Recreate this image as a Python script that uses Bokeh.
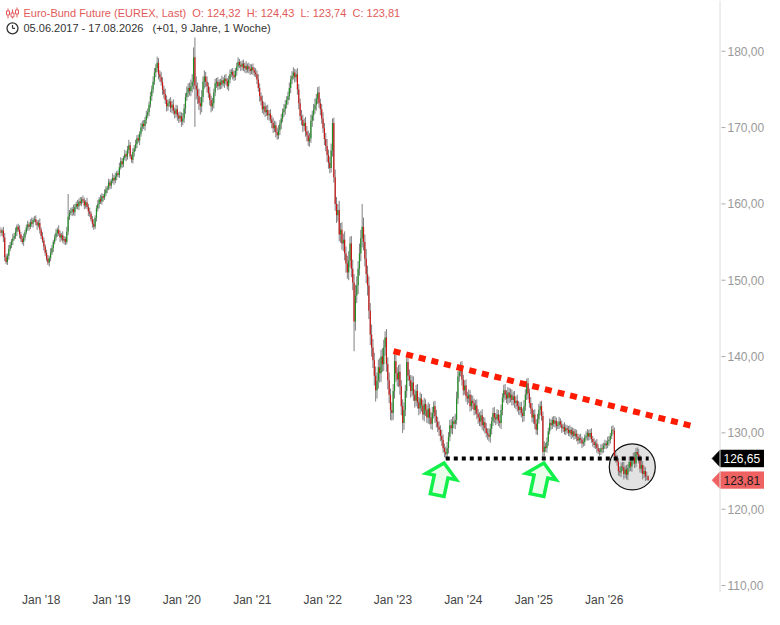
import math
import pandas as pd
from bokeh.plotting import figure
from bokeh.models import ColumnDataSource, FixedTicker, DatetimeTickFormatter, Label, Range1d, Span
from bokeh.core.properties import value
from bokeh.embed import file_html
from bokeh.resources import INLINE

# ---------------- data (weekly bars) ----------------
START = "2017-06-05"
first_open = 156.6
close = [
    156.2, 156.5, 155.6, 153.0, 152.4, 153.2, 154.1, 154.6, 155.1, 155.5,
    155.8, 156.4, 157.0, 156.6, 156.0, 155.4, 155.0, 155.6, 156.3, 156.9,
    157.3, 157.0, 157.6, 157.4, 157.9, 158.0, 157.6, 157.2, 157.5, 156.6,
    155.8, 155.2, 154.4, 153.6, 152.8, 152.3, 152.9, 153.6, 154.2, 155.0,
    155.6, 156.2, 156.6, 156.1, 155.6, 155.9, 155.2, 155.4, 155.0, 156.4,
    158.3, 158.8, 159.0, 159.3, 158.9, 159.6, 160.0, 159.7, 160.3, 160.1,
    160.6, 160.4, 159.8, 160.2, 159.6, 159.0, 158.7, 158.0, 157.4, 157.0,
    158.2, 159.4, 160.0, 160.6, 160.3, 161.0, 160.8, 161.4, 161.9, 162.1,
    162.8, 162.4, 163.0, 163.4, 163.1, 163.6, 164.0, 163.8, 164.8, 165.6,
    165.2, 166.0, 166.5, 166.2, 167.1, 167.7, 166.2, 165.8, 166.8, 167.3,
    167.8, 168.6, 168.3, 169.2, 170.0, 170.5, 170.2, 171.0, 171.6, 172.0,
    173.0, 174.1, 175.0, 176.0, 177.2, 177.8, 178.5, 177.0, 176.6, 176.0,
    175.0, 174.4, 173.6, 172.8, 173.2, 173.4, 172.6, 173.0, 172.2, 171.8,
    172.4, 171.6, 171.2, 171.5, 170.8, 171.2, 172.5, 174.0, 174.6, 175.2,
    174.8, 175.4, 176.0, 179.2, 175.5, 175.0, 174.1, 173.2, 172.8, 174.0,
    176.0, 176.7, 176.0, 175.4, 174.5, 173.6, 172.8, 173.2, 174.6, 175.8,
    176.0, 175.4, 175.9, 175.6, 176.2, 175.8, 176.4, 176.1, 175.4, 176.3,
    177.0, 177.3, 176.9, 176.6, 177.4, 178.0, 178.6, 178.2, 178.0, 178.4,
    177.8, 178.1, 177.6, 178.0, 177.7, 177.4, 177.9, 177.5, 177.2, 177.0,
    176.3, 175.2, 174.1, 173.5, 172.4, 172.8, 172.0, 172.3, 171.6, 171.8,
    171.1, 170.6, 169.9, 170.3, 169.4, 169.0, 169.6, 170.5, 171.2, 172.0,
    172.4, 173.0, 173.6, 174.1, 175.2, 176.3, 176.8, 177.2, 176.6, 177.0,
    175.0, 173.2, 171.5, 171.0, 170.2, 170.6, 169.5, 169.0, 168.2, 168.6,
    170.9, 171.6, 172.4, 173.0, 173.8, 174.6, 173.2, 172.4, 171.2, 169.9,
    168.5, 167.6, 166.4, 165.4, 164.7, 167.0, 170.6, 163.5, 160.0, 158.5,
    159.2, 156.0, 156.6, 154.8, 155.3, 153.5, 152.2, 151.0, 152.6, 154.8,
    151.5, 149.7, 144.6, 148.0, 149.3, 151.5, 153.5, 155.5, 157.0, 155.0,
    152.8, 150.8, 149.3, 146.0, 142.9, 141.2, 139.5, 137.5, 135.6, 136.8,
    138.6, 137.8, 140.0, 139.0, 141.2, 142.5, 139.0, 136.9, 135.0, 133.0,
    132.6, 135.5, 139.4, 137.8, 137.0, 138.0, 136.1, 133.5, 131.3, 133.0,
    135.5, 139.3, 137.5, 136.9, 135.5, 136.6, 135.0, 134.2, 135.5, 134.0,
    133.2, 134.5, 133.6, 132.4, 133.8, 133.0, 132.0, 133.2, 132.0, 131.2,
    132.6, 133.5, 132.2, 131.5, 130.8, 130.4, 129.6, 129.1, 128.0, 127.5,
    127.2, 128.0, 129.5, 131.0, 130.6, 131.5, 131.2, 131.7, 134.5, 137.4,
    138.0, 138.6, 137.0, 135.6, 136.2, 134.8, 134.5, 135.0, 133.5, 134.2,
    133.9, 133.0, 133.6, 132.5, 132.0, 131.5, 132.3, 131.0, 131.4, 130.6,
    130.0, 129.8, 129.5, 130.5, 131.5, 132.6, 132.0, 131.8, 132.4, 131.6,
    131.3, 133.0, 134.6, 135.6, 135.0, 134.5, 135.3, 134.6, 135.0, 134.3,
    134.8, 133.9, 134.2, 133.5, 133.0, 133.4, 132.6, 132.2, 133.5, 135.0,
    136.5, 135.2, 133.9, 133.2, 132.0, 132.4, 131.2, 130.4, 131.8, 133.0,
    133.5, 132.2, 127.5, 128.2, 128.0, 128.8, 130.2, 131.3, 131.0, 131.7,
    131.2, 131.6, 130.9, 131.0, 131.5, 131.1, 130.6, 130.8, 130.2, 130.6,
    130.4, 130.0, 130.4, 129.8, 130.2, 129.6, 129.9, 129.5, 129.0, 129.3,
    129.1, 128.6, 128.8, 129.4, 129.6, 130.0, 129.5, 130.0, 129.2, 128.8,
    128.4, 128.6, 128.0, 127.6, 127.5, 128.0, 127.9, 128.3, 128.6, 128.4,
    128.9, 129.1, 129.6, 130.4, 130.3, 127.0, 126.5, 126.2, 125.0, 124.8,
    125.6, 125.5, 124.6, 125.2, 124.5, 125.4, 126.2, 125.6, 126.4, 126.8,
    126.0, 127.5, 127.2, 126.6, 125.3, 125.8, 124.6, 125.0, 124.3, 124.32,
    123.81,
]
# wick above the body top / below the body bottom (price units)
wick_up = [
    0.4,0.3,0.5,0.6,0.4,0.3,0.5,0.4,0.3,0.6,0.4,0.5,0.3,0.4,0.6,0.3,0.4,0.5,0.3,0.4,
    0.5,0.3,0.4,0.6,0.3,0.4,0.5,0.3,0.4,0.6,0.3,0.5,0.4,0.3,0.4,0.5,0.3,0.6,0.4,0.3,
    0.4,0.5,0.3,0.6,0.4,0.3,0.5,0.4,0.3,0.6,3.0,0.4,0.5,0.3,0.6,0.4,0.3,0.5,0.4,0.6,
    0.3,0.5,0.4,0.3,0.6,0.4,0.5,0.3,0.4,0.6,0.3,0.4,0.5,0.3,0.6,0.4,0.3,0.5,0.4,0.3,
    0.5,0.4,0.3,0.6,0.4,0.5,0.3,0.4,0.6,0.5,0.4,0.3,0.6,0.4,0.5,0.7,0.4,0.3,0.5,0.4,
    0.6,0.4,0.5,0.3,0.6,0.4,0.5,0.4,0.6,0.5,0.4,0.6,0.5,0.7,0.6,0.5,0.8,0.6,0.5,0.7,
    0.6,0.5,0.7,0.6,0.5,0.4,0.6,0.5,0.7,0.4,0.6,0.5,0.4,0.6,0.5,0.7,0.6,0.5,0.8,0.6,
    0.7,0.9,1.0,1.3,2.6,1.2,0.9,1.0,0.8,0.9,0.7,0.8,0.6,0.7,0.5,0.8,0.6,0.7,0.5,0.6,
    0.5,0.6,0.4,0.5,0.6,0.4,0.5,0.6,0.4,0.5,0.6,0.4,0.5,0.6,0.4,0.5,0.6,0.4,0.5,0.4,
    0.5,0.4,0.6,0.4,0.5,0.6,0.4,0.5,0.4,0.6,0.5,0.7,0.6,0.5,0.7,0.6,0.5,0.6,0.7,0.5,
    0.6,0.5,0.7,0.6,0.5,0.6,0.7,0.5,0.6,0.5,0.7,0.6,0.5,0.6,0.7,0.5,0.6,0.7,0.5,0.6,
    0.8,0.7,0.6,0.8,0.7,0.6,0.8,0.7,0.6,0.7,0.8,0.6,0.7,0.8,0.6,0.7,0.8,0.6,0.7,0.8,
    0.7,0.8,0.9,0.7,0.8,0.9,0.6,0.7,1.0,0.9,0.8,1.2,0.9,1.0,0.8,1.1,0.9,1.0,1.2,0.9,
    1.0,1.2,1.1,1.4,1.2,1.0,1.3,1.1,3.0,1.2,1.0,1.3,1.1,1.2,1.0,1.3,1.1,1.0,1.2,1.1,
    1.0,1.2,0.9,1.1,1.0,0.8,1.1,0.9,1.0,0.8,1.0,0.9,0.9,1.0,0.8,0.9,1.0,0.8,0.9,1.0,
    0.8,0.6,0.9,0.8,0.7,0.9,0.8,0.7,0.8,0.9,0.7,0.8,0.6,0.7,0.8,0.6,0.7,0.8,0.6,0.7,
    0.8,0.6,0.7,0.8,0.6,0.7,0.6,0.8,0.7,0.6,0.7,0.8,0.6,0.7,0.8,0.6,0.7,0.8,0.9,0.7,
    0.6,0.7,0.8,0.6,0.7,0.8,0.6,0.7,0.6,0.8,0.7,0.6,0.7,0.8,0.6,0.7,0.6,0.8,0.7,0.6,
    0.7,0.6,0.8,0.7,0.6,0.7,0.8,0.6,0.7,0.6,0.8,0.7,0.6,0.7,0.8,0.6,0.7,0.6,0.8,0.7,
    0.6,0.7,0.6,0.8,0.7,0.6,0.7,0.6,0.8,0.7,0.6,0.7,0.6,0.8,0.7,0.6,0.7,0.6,0.7,0.8,
    0.6,0.7,0.6,0.7,0.5,0.6,0.5,0.6,0.5,0.4,0.5,0.6,0.4,0.5,0.6,0.4,0.5,0.4,0.6,0.5,
    0.4,0.5,0.6,0.4,0.5,0.4,0.6,0.5,0.4,0.5,0.6,0.4,0.5,0.4,0.6,0.5,0.4,0.5,0.6,0.4,
    0.5,0.4,0.6,0.5,0.4,0.5,0.6,0.4,0.5,0.4,0.6,0.5,0.4,0.5,0.6,0.4,0.5,0.6,0.5,0.6,
    0.5,0.6,0.7,0.5,0.6,0.5,0.7,0.6,0.5,0.6,0.7,0.5,0.6,0.7,0.5,0.6,0.5,0.7,0.5,0.6,
    0.11,
]
wick_dn = [
    0.5,0.4,0.6,0.5,0.3,0.4,0.5,0.3,0.4,0.5,0.3,0.4,0.6,0.3,0.5,0.4,0.3,0.5,0.4,0.3,
    0.4,0.5,0.3,0.4,0.5,0.3,0.4,0.6,0.3,0.5,0.4,0.3,0.5,0.4,0.3,0.3,0.5,0.4,0.3,0.5,
    0.3,0.4,0.5,0.3,0.6,0.4,0.3,0.5,0.4,0.3,0.5,0.4,0.3,0.6,0.4,0.5,0.3,0.4,0.5,0.3,
    0.4,0.3,0.5,0.4,0.3,0.6,0.4,0.3,0.5,0.4,0.3,0.5,0.4,0.6,0.3,0.4,0.5,0.3,0.4,0.5,
    0.3,0.5,0.4,0.3,0.6,0.4,0.5,0.3,0.4,0.3,0.5,0.4,0.3,0.6,0.4,0.5,0.3,0.4,0.5,0.6,
    0.4,0.5,0.3,0.6,0.4,0.5,0.4,0.6,0.5,0.4,0.5,0.4,0.6,0.5,0.4,0.6,0.5,0.7,0.6,0.5,
    0.7,0.6,0.5,0.7,0.6,0.5,0.6,0.7,0.5,0.6,0.5,0.7,0.6,0.5,0.7,0.5,0.6,0.7,0.5,0.6,
    0.6,0.7,0.8,1.0,5.4,1.3,1.0,0.9,1.1,0.8,0.7,0.9,0.7,0.8,0.6,0.7,0.8,0.6,0.7,0.5,
    0.6,0.5,0.4,0.6,0.5,0.4,0.6,0.5,0.4,0.6,0.5,0.4,0.6,0.5,0.4,0.6,0.5,0.4,0.6,0.5,
    0.4,0.6,0.5,0.4,0.6,0.5,0.4,0.6,0.5,0.4,0.6,0.5,0.7,0.6,0.5,0.7,0.6,0.5,0.6,0.7,
    0.5,0.7,0.6,0.5,0.7,0.6,0.5,0.6,0.7,0.5,0.6,0.7,0.5,0.6,0.5,0.7,0.6,0.5,0.7,0.6,
    0.7,0.8,0.6,0.7,0.8,0.6,0.7,0.8,0.6,0.7,0.6,0.8,0.7,0.6,0.8,0.7,0.6,0.8,0.7,0.6,
    0.8,0.7,0.9,0.8,0.7,0.6,0.8,0.7,0.9,1.0,0.8,0.9,1.1,0.8,1.0,0.9,1.2,0.8,1.0,0.9,
    1.1,1.0,3.9,1.2,1.0,1.1,0.9,1.0,1.2,1.1,1.0,1.2,1.3,1.1,1.4,1.2,1.0,1.3,1.5,1.1,
    1.0,1.2,1.1,1.0,0.9,1.1,1.0,1.2,1.1,1.3,1.0,0.9,1.0,1.1,0.9,1.0,1.1,1.2,1.3,0.9,
    0.8,0.9,0.7,0.8,0.9,0.7,0.8,0.9,0.7,0.8,0.9,0.7,0.8,0.7,0.9,0.8,0.7,0.8,0.9,0.7,
    0.8,0.7,0.9,0.8,0.7,0.8,0.7,0.8,0.6,0.7,0.55,0.6,0.7,0.6,0.7,0.8,0.6,0.7,0.6,0.7,
    0.7,0.6,0.8,0.7,0.6,0.7,0.8,0.6,0.7,0.6,0.8,0.7,0.6,0.7,0.8,0.6,0.7,0.6,0.8,0.7,
    0.6,0.7,0.6,0.8,0.7,0.6,0.7,0.8,0.6,0.7,0.6,0.8,0.7,0.6,0.7,0.6,0.8,0.7,0.6,0.7,
    0.7,0.6,0.8,0.7,0.6,0.7,0.6,0.8,0.7,0.6,0.7,0.8,0.6,0.7,0.6,0.8,0.7,0.6,0.7,0.6,
    0.7,0.6,0.85,0.6,0.5,0.6,0.5,0.4,0.6,0.5,0.4,0.5,0.6,0.4,0.5,0.4,0.6,0.5,0.4,0.5,
    0.5,0.4,0.5,0.6,0.4,0.5,0.4,0.6,0.5,0.4,0.5,0.6,0.4,0.5,0.4,0.6,0.5,0.4,0.5,0.6,
    0.4,0.5,0.6,0.4,0.5,0.4,0.6,0.5,0.4,0.5,0.4,0.6,0.5,0.4,0.5,0.6,0.4,0.5,0.6,0.5,
    0.6,0.5,0.7,0.5,0.6,0.7,0.5,0.6,0.7,0.5,0.6,0.5,0.7,0.6,0.5,0.6,0.7,0.5,0.6,0.5,
    0.07,
]

year_ticks = [2018, 2019, 2020, 2021, 2022, 2023, 2024, 2025, 2026]
price_ticks = [110, 120, 130, 140, 150, 160, 170, 180]

title_text = ("Euro-Bund Future (EUREX, Last)\u00a0\u00a0O: 124,32\u00a0\u00a0H: 124,43"
              "\u00a0\u00a0L: 123,74\u00a0\u00a0C: 123,81")
period_text = "05.06.2017 - 17.08.2026\u00a0\u00a0\u00a0(+01, 9 Jahre, 1 Woche)"

# annotations
support_level = 126.65
last_price = 123.81
trend_pts = [("2023-01-04", 140.7), ("2027-03-25", 130.95)]
support_span = ("2023-10-02", "2026-08-20")
circle_center = ("2026-05-27", 125.54)
arrow_tips = [("2023-09-23", 126.06), ("2025-02-22", 126.06)]

# ---------------- layout ----------------
W, H = 764, 609
FW, FH = 764, 595
PX_PER_DAY = 0.19268
X0 = pd.Timestamp("2017-06-04")
X1 = X0 + pd.Timedelta(days=FW / PX_PER_DAY)
PPU = 537 / 70.0                     # pixels per price unit
Y1 = 180 + 51 / PPU
Y0 = Y1 - FH / PPU
AXIS_X = 719.5                       # pixel column of the price scale line


def ms(ts):
    return pd.Timestamp(ts).value / 1e6


MS_PER_PX = (ms(X1) - ms(X0)) / FW
P_PER_PX = 1.0 / PPU


def fx(px):
    return ms(X0) + px * MS_PER_PX


def fy(py):
    return Y1 - py * P_PER_PX


n = len(close)
dates = pd.date_range(START, periods=n, freq="7D")
opens = [first_open] + close[:-1]
highs, lows, colors = [], [], []
for i in range(n):
    o, c = opens[i], close[i]
    highs.append(max(o, c) + wick_up[min(i, len(wick_up) - 1)])
    lows.append(min(o, c) - wick_dn[min(i, len(wick_dn) - 1)])
    colors.append("#1f8f26" if c >= o else "#cc1616")

src = ColumnDataSource(dict(date=dates, open=opens, close=close, high=highs, low=lows, color=colors))

p = figure(width=W, height=H, x_axis_type="datetime", y_axis_location=None,
           output_backend="svg", toolbar_location=None,
           x_range=Range1d(X0.to_pydatetime(), X1.to_pydatetime()),
           y_range=Range1d(Y0, Y1),
           min_border_left=0, min_border_top=0, min_border_right=0, min_border_bottom=H - FH)
p.outline_line_color = None
p.xgrid.visible = False
p.ygrid.visible = False
p.background_fill_color = "white"
p.border_fill_color = "white"

# x axis
xax = p.xaxis[0]
xax.ticker = FixedTicker(ticks=[ms(f"{y}-01-01") for y in year_ticks])
fmt = "Jan '%y"
xax.formatter = DatetimeTickFormatter(years=fmt, months=fmt, days=fmt, hours=fmt,
                                      minutes=fmt, seconds=fmt, milliseconds=fmt)
xax.axis_line_color = None
xax.major_tick_line_color = None
xax.minor_tick_line_color = None
xax.major_tick_out = 0
xax.major_tick_in = 0
xax.major_label_standoff = 0
xax.major_label_text_color = "#444444"
xax.major_label_text_font = "Liberation Sans"
xax.major_label_text_font_size = "12px"

# price scale drawn at the right edge of the plotting area
p.add_layout(Span(location=fx(AXIS_X), dimension="height", line_color="#dcdcdc", line_width=1))
p.segment(x0=[fx(AXIS_X + 1.5)] * len(price_ticks), y0=price_ticks,
          x1=[fx(AXIS_X + 5.5)] * len(price_ticks), y1=price_ticks, line_color="#aaaaaa", line_width=1)
p.text(x=[fx(AXIS_X + 7.5)] * len(price_ticks), y=price_ticks,
       text=[f"{t:.2f}".replace(".", ",") for t in price_ticks],
       text_font=value("Liberation Sans"), text_font_size=value("12px"),
       text_color="#999999", text_baseline="middle", text_align="left")

# circle highlight (under the bars)
p.scatter(x=[pd.Timestamp(circle_center[0])], y=[circle_center[1]], size=46, marker="circle",
          fill_color="#e2e2e2", line_color="#111111", line_width=1.2)

# candles
p.segment(x0="date", y0="low", x1="date", y1="high", source=src, line_color="#808080", line_width=1)
p.segment(x0="date", y0="open", x1="date", y1="close", source=src, line_color="color", line_width=1.2)

# trend line and support
p.line(x=[pd.Timestamp(d) for d, _ in trend_pts], y=[v for _, v in trend_pts],
       line_color="#ff1a00", line_width=6, line_dash="7 6")
p.line(x=[pd.Timestamp(support_span[0]), pd.Timestamp(support_span[1])],
       y=[support_level, support_level], line_color="black", line_width=4, line_dash="4 4")

# green arrows (shape in pixels, rotated)
shape = [(0, 0), (15.5, -14), (7, -14), (7, -33), (-7, -33), (-7, -14), (-15.5, -14)]
th = math.radians(12)
for d, pr in arrow_tips:
    xs, ys = [], []
    for (u, v) in shape:
        ux = u * math.cos(th) + v * math.sin(th)
        vy = -u * math.sin(th) + v * math.cos(th)
        xs.append(ms(d) + ux * MS_PER_PX)
        ys.append(pr + vy * P_PER_PX)
    p.patch(xs, ys, fill_color="#eafcea", line_color="#12f04a", line_width=3.5, line_join="miter")

# header icons
red = "#e25a5a"
for cx, wt, wb, bt, bb in [(7.5, 8, 18, 10.5, 14.5), (12, 9, 18, 12.5, 16.5), (16.5, 7, 17, 9.5, 13.5)]:
    p.segment(x0=[fx(cx)], y0=[fy(wb)], x1=[fx(cx)], y1=[fy(wt)], line_color=red, line_width=1)
    p.quad(left=[fx(cx - 1.5)], right=[fx(cx + 1.5)], top=[fy(bt)], bottom=[fy(bb)],
           fill_color="white", line_color=red, line_width=1)
p.scatter(x=[fx(12)], y=[fy(28)], size=11, marker="circle", fill_color="white",
          line_color="#333333", line_width=1.3)
p.segment(x0=[fx(12), fx(12)], y0=[fy(28), fy(28)], x1=[fx(12), fx(14.5)], y1=[fy(24.5), fy(28)],
          line_color="#333333", line_width=1.2)

p.add_layout(Label(x=23, x_units="screen", y=fy(12.5), y_units="data", text=title_text,
                   text_font="Liberation Sans", text_font_size="11px", text_color=red,
                   text_baseline="middle"))
p.add_layout(Label(x=23, x_units="screen", y=fy(28), y_units="data", text=period_text,
                   text_font="Liberation Sans", text_font_size="11px", text_color="#333333",
                   text_baseline="middle"))

# price boxes at the right edge (pointer + box)
for val, bg, fg in [(support_level, "black", "white"), (last_price, "#ef6262", "#1a1a1a")]:
    bx = [fx(AXIS_X - 8), fx(AXIS_X), fx(764), fx(764), fx(AXIS_X)]
    by = [val, val + 8.5 * P_PER_PX, val + 8.5 * P_PER_PX, val - 8.5 * P_PER_PX, val - 8.5 * P_PER_PX]
    p.patch(bx, by, fill_color=bg, line_color=bg, line_width=0.5)
    p.text(x=[fx(AXIS_X + 3.5)], y=[val], text=[f"{val:.2f}".replace(".", ",")],
           text_font=value("Liberation Sans"), text_font_size=value("12px"),
           text_color=fg, text_baseline="middle", text_align="left")

open("out.html", "w").write(file_html(p, INLINE))
